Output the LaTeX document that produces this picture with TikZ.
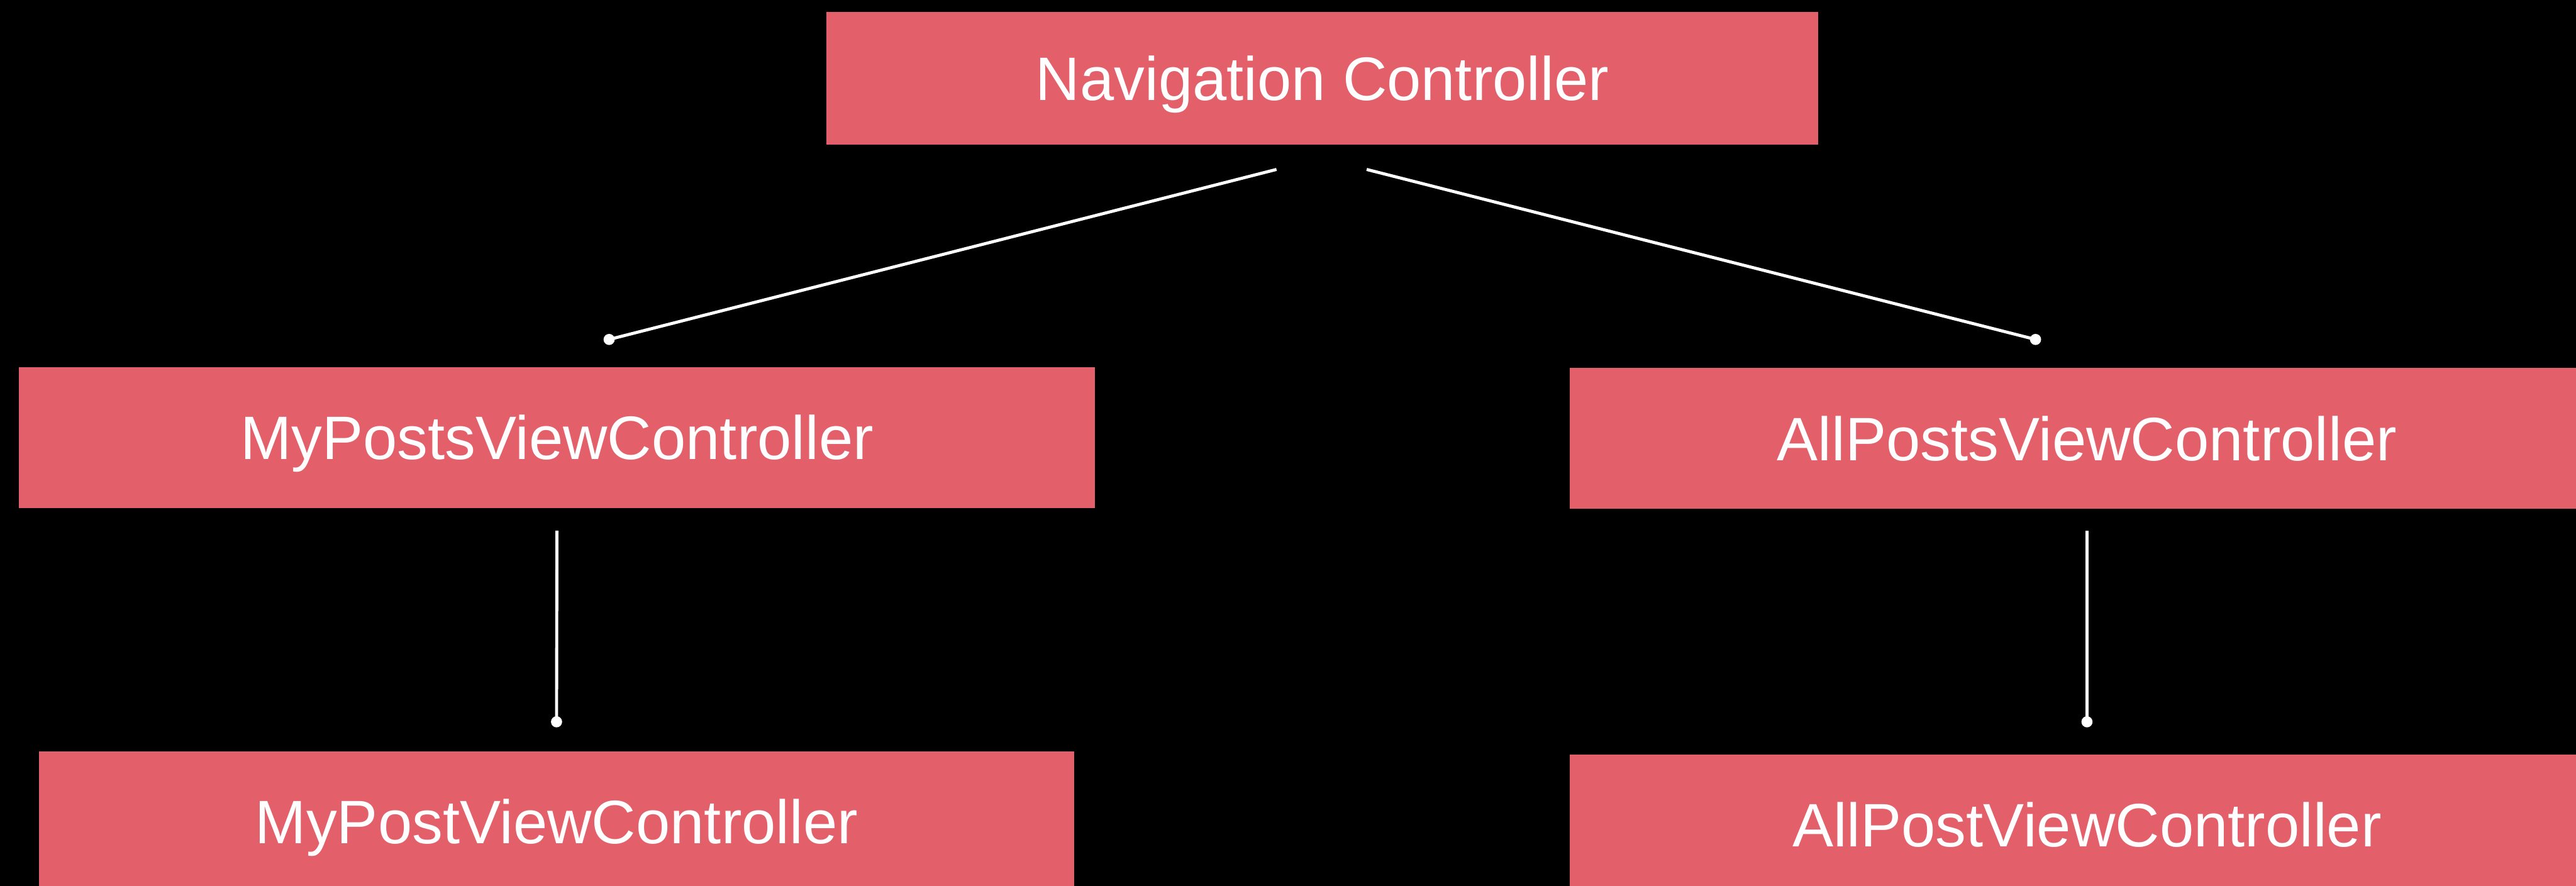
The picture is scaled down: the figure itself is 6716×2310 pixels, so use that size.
\documentclass[tikz,border=0pt]{standalone}
\usepackage{fontspec}
\setmainfont{Liberation Sans}
\definecolor{boxred}{HTML}{E3606B}
\begin{document}
\begin{tikzpicture}[x=0.01cm,y=-0.01cm,
  box/.style={fill=boxred, inner sep=0pt, text=white,
    font=\fontsize{45.5}{54}\selectfont, text height=32.7pt, text depth=0pt},
  conn/.style={draw=white, line width=0.08cm},
  enddot/.style={fill=white}]
\fill[black] (0,0) rectangle (6716,2310);
\useasboundingbox (0,0) rectangle (6716,2310);

\node[box, minimum width=25.85cm, minimum height=3.45cm] (nav) at (3447.5,204.5) {Navigation Controller};
\node[box, minimum width=28.04cm, minimum height=3.66cm] (myposts) at (1452,1141) {MyPostsViewController};
\node[box, minimum width=26.94cm, minimum height=3.66cm] (allposts) at (5441,1143) {AllPostsViewController};
\node[box, minimum width=26.98cm, minimum height=3.66cm] (mypost) at (1451,2142) {MyPostViewController};
\node[box, minimum width=26.94cm, minimum height=3.66cm] (allpost) at (5441,2150) {AllPostViewController};

\coordinate (l1) at ([xshift=-1.195cm,yshift=-0.64cm]nav.south);
\coordinate (r1) at ([xshift=1.155cm,yshift=-0.64cm]nav.south);
\coordinate (l2) at ([xshift=1.36cm,yshift=0.72cm]myposts.north);
\coordinate (r2) at ([xshift=-1.34cm,yshift=0.74cm]allposts.north);
\coordinate (v1) at ([yshift=-0.59cm]myposts.south);
\coordinate (v2) at ([yshift=0.76cm]mypost.north);
\coordinate (w1) at ([yshift=-0.57cm]allposts.south);
\coordinate (w2) at ([yshift=0.84cm]allpost.north);

\draw[conn] (l1) -- (l2);
\draw[conn] (r1) -- (r2);
\draw[conn] (v1) -- (v2);
\draw[conn] (w1) -- (w2);
\fill[enddot] (l2) circle (0.145cm);
\fill[enddot] (r2) circle (0.145cm);
\fill[enddot] (v2) circle (0.145cm);
\fill[enddot] (w2) circle (0.145cm);
\end{tikzpicture}
\end{document}
